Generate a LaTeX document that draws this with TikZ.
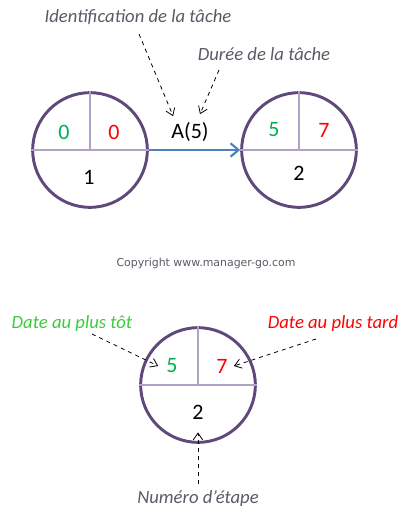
\documentclass[tikz,border=0pt]{standalone}
\usepackage{fontspec}
\usepackage{xcolor}
\usepackage{tikz}
\usetikzlibrary{arrows.meta}
\setmainfont{Carlito}
\newfontfamily\copyfont{DejaVu Sans}

\definecolor{cercle}{HTML}{5F497A}
\definecolor{trait}{HTML}{B3A2C7}
\definecolor{fleche}{HTML}{4F81BD}
\definecolor{tot}{HTML}{00B050}
\definecolor{tard}{HTML}{FF0000}
\definecolor{legende}{HTML}{5A5A66}
\definecolor{vertclair}{HTML}{3CCB3C}

\tikzset{
  etape/.style={circle,draw=cercle,line width=2.2pt,minimum size=86pt,inner sep=0pt},
  chiffre/.style={inner sep=0.75pt,font=\fontsize{16.5}{19}\selectfont},
  note/.style={inner sep=0.75pt,font=\fontsize{14}{17}\selectfont\itshape,text=legende},
  renvoi/.style={draw=black,dashed,line width=0.6pt,-{Straight Barb[length=5pt,width=7pt]}}
}

\begin{document}
\begin{tikzpicture}[x=0.75pt,y=0.75pt,yscale=-1,xscale=1]
\useasboundingbox (0,0) rectangle (412,521);

% etapes
\node [etape] (e1) at (90,150) {};
\node [etape] (e2) at (299,150) {};
\node [etape] (e3) at (198,385) {};

\foreach \e in {e1,e2,e3} {
  \draw [trait,line width=0.8pt] (\e.west) -- (\e.east) ;
  \draw [trait,line width=0.8pt] (\e.north) -- (\e.center) ;
}

% tache
\draw [fleche,line width=1.6pt,-{Straight Barb[length=6pt,width=10pt]}] (e1.east) -- (e2.west) ;

\node [chiffre,text=tot] (t1) at (64,132) {0};
\node [chiffre,text=tard] (r1) at (114,132) {0};
\node [chiffre] (n1) at (89,177) {1};

\node [chiffre,text=tot] (t2) at (274,130) {5};
\node [chiffre,text=tard] (r2) at (324,130) {7};
\node [chiffre] (n2) at (299,173) {2};

\node [chiffre] (tache) at (190,132) {A(5)};

\node [note] (ident) at (138,17) {Identification de la tâche};
\node [note] (duree) at (264,54) {Durée de la tâche};

\coordinate (c1) at (139,34);
\coordinate (c2) at (219,70);
\draw [renvoi] (c1) -- ([shift={(3,-5)}]tache.north west) ;
\draw [renvoi] (c2) -- ([shift={(10,-7)}]tache.north) ;

\node [inner sep=0.75pt,font=\copyfont\fontsize{8.2}{10}\selectfont,text=legende] (copy) at (206,263) {Copyright www.manager-go.com};

% legende
\node [chiffre,text=tot] (t3) at (172,366) {5};
\node [chiffre,text=tard] (r3) at (222,366) {7};
\node [chiffre] (n3) at (198,412) {2};

\node [note,text=vertclair] (plustot) at (72,324) {Date au plus tôt};
\node [note,text=tard] (plustard) at (333,324) {Date au plus tard};
\node [note] (numero) at (198,499) {Numéro d’étape};

\coordinate (c3) at (92,334);
\coordinate (c4) at (316,339);
\coordinate (c5) at (198,484);
\draw [renvoi] (c3) -- ([shift={(-7,0)}]t3.west) ;
\draw [renvoi] (c4) -- ([shift={(5,0)}]r3.east) ;
\draw [renvoi] (c5) -- ([shift={(0,12)}]n3.south) ;

\end{tikzpicture}
\end{document}
